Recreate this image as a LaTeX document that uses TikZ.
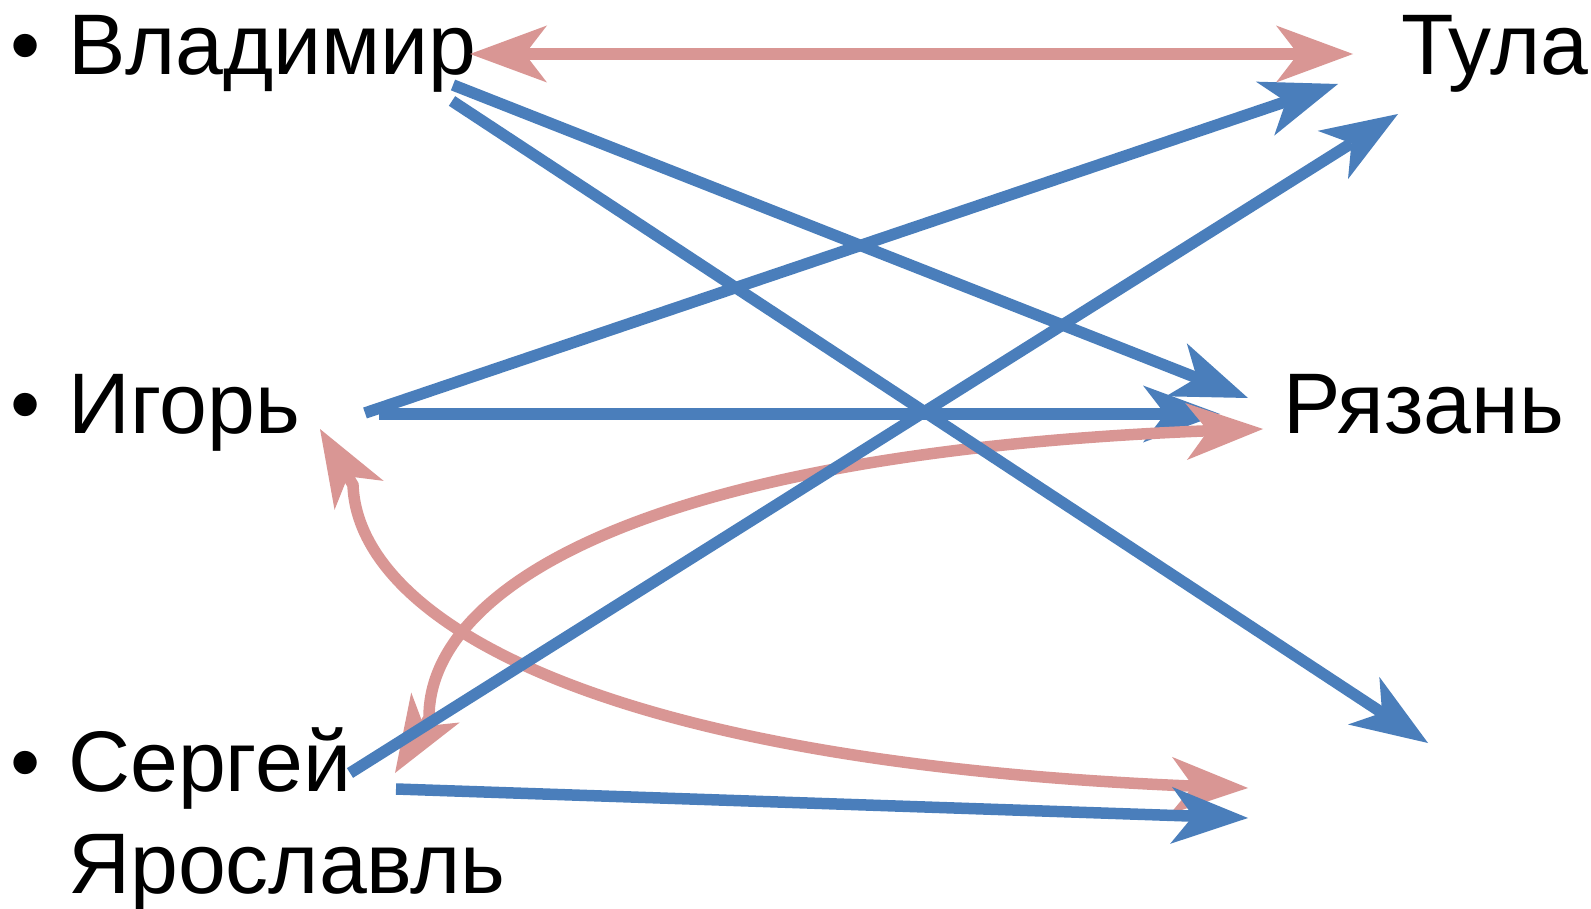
\documentclass[tikz,border=0pt]{standalone}
\usepackage{fontspec}
\setmainfont{Liberation Sans}
\usetikzlibrary{arrows.meta,bending}
\definecolor{lnblue}{RGB}{74,126,187}
\definecolor{lnpink}{RGB}{217,150,148}
\begin{document}
\begin{tikzpicture}[x=1pt,y=-1pt,
  lbl/.style={anchor=base west,inner sep=0pt,font=\fontsize{86}{103}\selectfont},
  tipshape/.tip={Stealth[length=77pt,width=57pt,inset=22pt,line width=0pt]},
  bluearrow/.style={draw=lnblue,line width=11.5pt,-tipshape},
  pinkarrow/.style={draw=lnpink,line width=11.5pt,tipshape-tipshape}]
\useasboundingbox (0,0) rectangle (1591,909);
% texts
\node[lbl] (b1) at (10,75) {•};
\node[lbl] (vlad) at (68,75) {Владимир};
\node[lbl] (b2) at (10,433) {•};
\node[lbl] (igor) at (68,433) {Игорь};
\node[lbl] (b3) at (10,791) {•};
\node[lbl] (serg) at (68,791) {Сергей};
\node[lbl] (yar) at (68,893) {Ярославль};
\node[lbl] (tula) at (1401,75) {Тула};
\node[lbl] (ryaz) at (1283,433) {Рязань};
% end points
\coordinate (v1) at (453,85);
\coordinate (v2) at (452,101);
\coordinate (ig1) at (365,413);
\coordinate (ig2) at (379,414);
\coordinate (s1) at (350,773);
\coordinate (s2) at (396,789);
\coordinate (vP) at (470,54);
\coordinate (tP) at (1353,54);
\coordinate (tA) at (1338,84);
\coordinate (tB) at (1398,114);
\coordinate (rA) at (1248,398);
\coordinate (rB) at (1220,414);
\coordinate (rP) at (1263,429);
\coordinate (e1) at (1428,743);
\coordinate (e2) at (1248,818);
\coordinate (eP) at (1248,788);
\coordinate (igP) at (320,429);
\coordinate (igK) at (353,485);
\coordinate (sP) at (395,773);
\coordinate (sK) at (429,718);
% connectors
\draw[pinkarrow] (vP) -- (tP);
\draw[pinkarrow] (igP) -- (igK) .. controls (358,620) and (600,770) .. (eP);
\draw[bluearrow] (ig2) -- (rB);
\draw[pinkarrow] (sP) -- (sK) .. controls (428,590) and (640,445) .. (rP);
\draw[bluearrow] (v1) -- (rA);
\draw[bluearrow] (v2) -- (e1);
\draw[bluearrow] (ig1) -- (tA);
\draw[bluearrow] (s1) -- (tB);
\draw[bluearrow] (s2) -- (e2);
\end{tikzpicture}
\end{document}
